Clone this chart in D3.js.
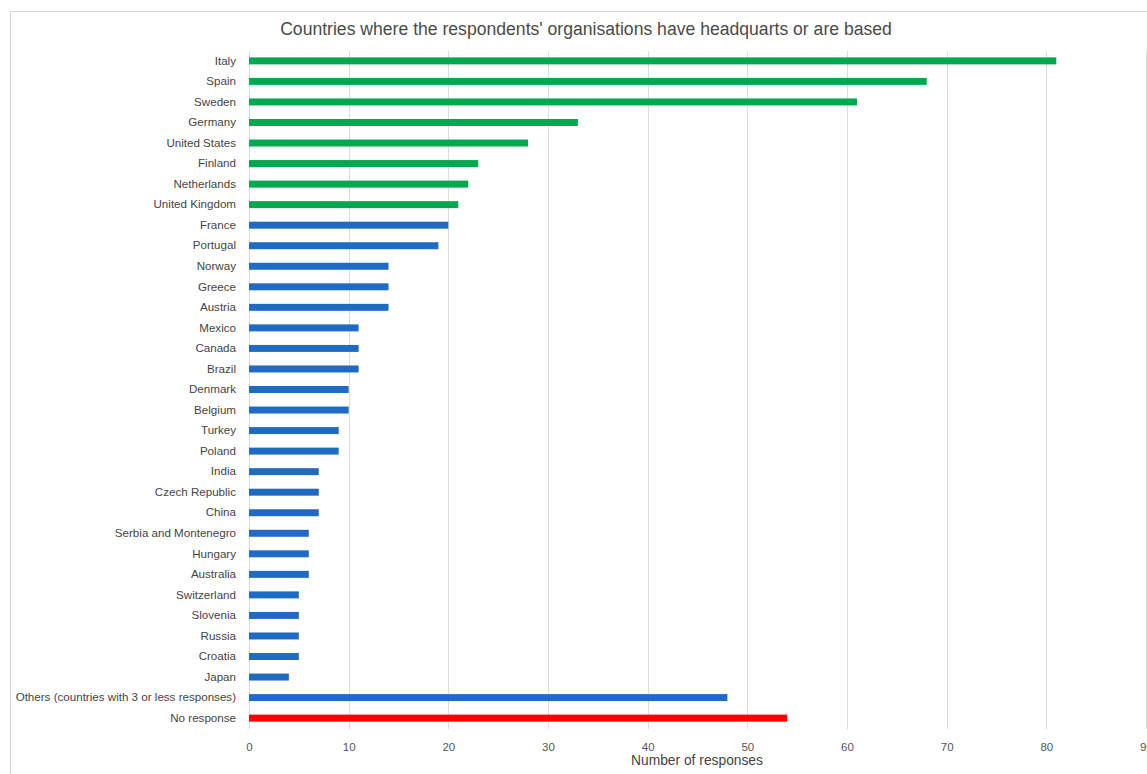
<!DOCTYPE html>
<html><head><meta charset="utf-8">
<script src="https://cdn.jsdelivr.net/npm/d3@7"></script>
<style>body{margin:0;background:#fff;overflow:hidden}svg{display:block;font-family:"Liberation Sans",Arial,sans-serif}</style>
</head><body>
<svg id="c" width="1147" height="774"></svg>
<script>
const categories = ["Italy","Spain","Sweden","Germany","United States","Finland","Netherlands","United Kingdom","France","Portugal","Norway","Greece","Austria","Mexico","Canada","Brazil","Denmark","Belgium","Turkey","Poland","India","Czech Republic","China","Serbia and Montenegro","Hungary","Australia","Switzerland","Slovenia","Russia","Croatia","Japan","Others (countries with 3 or less responses)","No response"];
const values = [81,68,61,33,28,23,22,21,20,19,14,14,14,11,11,11,10,10,9,9,7,7,7,6,6,6,5,5,5,5,4,48,54];
const groups = ["top","top","top","top","top","top","top","top","other","other","other","other","other","other","other","other","other","other","other","other","other","other","other","other","other","other","other","other","other","other","other","other","none"];
const xTicks = [0,10,20,30,40,50,60,70,80,90];
const colors = {top:"#00a84f", other:"#1f6bc4", none:"#ff0000"};
const title = "Countries where the respondents' organisations have headquarts or are based";
const xTitle = "Number of responses";

const svg = d3.select("#c");
// chart frame
svg.append("line").attr("x1",10).attr("x2",1147).attr("y1",11.5).attr("y2",11.5).attr("stroke","#d6d6d6");
svg.append("line").attr("x1",10.5).attr("x2",10.5).attr("y1",11).attr("y2",774).attr("stroke","#d6d6d6");

const x = d3.scaleLinear().domain([0,90]).range([249,1146]);
const y = d3.scaleBand().domain(categories).range([50.6,728.4]).paddingInner(0.66).paddingOuter(0.33);

// gridlines
svg.append("g").selectAll("line").data(xTicks).join("line")
  .attr("x1",d=>Math.round(x(d))+0.5).attr("x2",d=>Math.round(x(d))+0.5)
  .attr("y1",51).attr("y2",729).attr("stroke","#dcdcdc").attr("stroke-width",1);

// bars
svg.append("g").selectAll("rect").data(categories).join("rect")
  .attr("x",x(0)).attr("y",d=>y(d))
  .attr("width",(d,i)=>x(values[i])-x(0)).attr("height",y.bandwidth())
  .attr("fill",(d,i)=>colors[groups[i]]);

// y labels
const yAxis = d3.axisLeft(y).tickSize(0).tickPadding(13);
const gy = svg.append("g").attr("transform",`translate(${x(0)},0)`).call(yAxis);
gy.select(".domain").remove();
gy.selectAll("text").attr("font-size",11.6).attr("fill","#444").attr("font-family","Liberation Sans, Arial, sans-serif");

// x axis
const xAxis = d3.axisBottom(x).tickValues(xTicks).tickSize(0).tickPadding(8);
const gx = svg.append("g").attr("transform","translate(0,735)").call(xAxis);
gx.select(".domain").remove();
gx.selectAll("text").attr("font-size",11.5).attr("fill","#555").attr("font-family","Liberation Sans, Arial, sans-serif");

svg.append("text").attr("x",697).attr("y",765).attr("text-anchor","middle")
  .attr("font-size",13.8).attr("fill","#444").text(xTitle);
svg.append("text").attr("x",586).attr("y",35).attr("text-anchor","middle")
  .attr("font-size",17.6).attr("fill","#4a4a4a").text(title);
</script>
</body></html>
